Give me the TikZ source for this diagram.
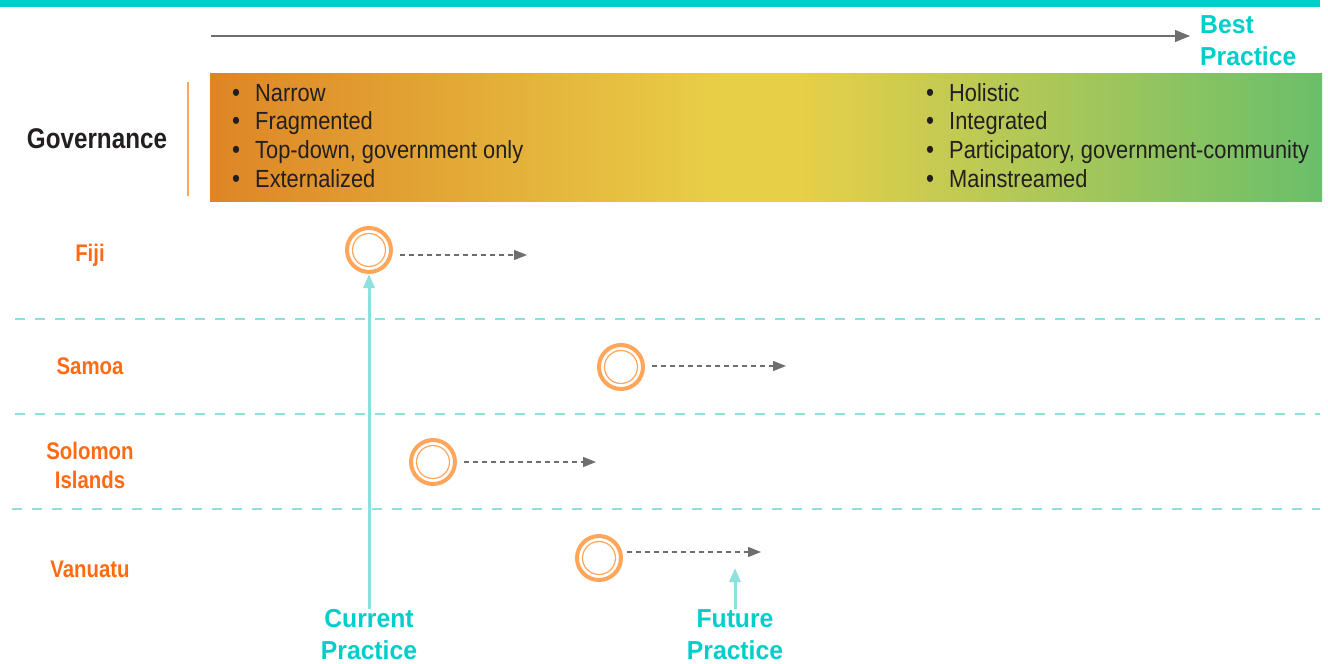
\documentclass[tikz,border=0pt]{standalone}
\usepackage{fontspec}
\setmainfont{Liberation Sans}
\newfontfamily\cf[FakeStretch=0.88]{Liberation Sans}
\newfontfamily\cfb[FakeStretch=0.85]{Liberation Sans Bold}
\newfontfamily\tfb[FakeStretch=0.95]{Liberation Sans Bold}
\usetikzlibrary{arrows.meta}
\definecolor{teal0}{RGB}{0,206,202}
\definecolor{lteal}{RGB}{140,224,222}
\definecolor{ctry}{RGB}{255,106,19}
\definecolor{ring}{RGB}{255,166,90}
\definecolor{gr}{RGB}{110,110,110}
\definecolor{gorange}{RGB}{222,133,38}
\definecolor{gyellow}{RGB}{232,207,72}
\definecolor{ggreen}{RGB}{106,191,106}
\definecolor{txt}{RGB}{35,31,32}
\pgfdeclarehorizontalshading{band}{100bp}{color(0bp)=(gorange); color(25bp)=(gorange); color(48bp)=(gyellow); color(51.5bp)=(gyellow); color(75bp)=(ggreen); color(100bp)=(ggreen)}
\tikzset{
  bul/.style={anchor=base west, inner sep=0pt, font=\cf\fontsize{24.8}{28}\selectfont, text=txt},
  ctrylab/.style={font=\cfb\fontsize{24}{29}\selectfont, text=ctry, align=center, inner sep=0pt},
  teallab/.style={font=\tfb\fontsize{26}{32}\selectfont, text=teal0, align=center, inner sep=0pt},
  dot/.style={circle, draw=ring, line width=4pt, minimum size=44pt, inner sep=0pt,
     append after command={\pgfextra{\draw[ring, line width=1.2pt] (\tikzlastnode.center) circle (16.5pt);}}},
  sep/.style={lteal, line width=2.5pt, dash pattern=on 10pt off 10pt},
  prog/.style={gr, line width=1.3pt, dash pattern=on 5pt off 4pt, -{Triangle[length=13pt,width=10pt]}},
  pointer/.style={lteal, line width=3pt, -{Triangle[length=14pt,width=11pt]}},
}
\newcommand{\bl}[1]{\makebox[23pt][l]{\fontsize{26}{26}\selectfont\textbullet}#1}
\begin{document}
\begin{tikzpicture}[x=1pt,y=-1pt]
\useasboundingbox (0,0) rectangle (1328,664);
% top bar
\fill[teal0] (0,0) rectangle (1320,7);
% axis arrow
\coordinate (axs) at (211,36);
\coordinate (axe) at (1190,36);
\draw[gr, line width=1.3pt, -{Triangle[length=15pt,width=12pt]}] (axs) -- (axe);
\node[teallab, anchor=west, align=left] (best) at (1200,41) {Best\\Practice};
% gradient band
\shade[shading=band] (210,73) rectangle (1322,201);
% governance
\draw[ring, line width=2.5pt] (188,82) -- (188,196);
\node[font=\cfb\fontsize{28.5}{32}\selectfont, text=txt] (gov) at (97,139) {Governance};
% bullets left
\foreach \t [count=\i] in {Narrow,Fragmented,{Top-down, government only},Externalized}{
  \node[bul] (l\i) at (232,101+28.7*\i-28.7) {\bl{\t}};
}
\foreach \t [count=\i] in {Holistic,Integrated,{Participatory, government-community},Mainstreamed}{
  \node[bul] (r\i) at (926,101+28.7*\i-28.7) {\bl{\t}};
}
% separators
\draw[sep] (15,319) -- (1320,319);
\draw[sep] (15,414) -- (1320,414);
\draw[sep] (12,509) -- (1320,509);
% countries
\node[ctrylab] (fiji) at (90,255) {Fiji};
\node[ctrylab] (samoa) at (90,366) {Samoa};
\node[ctrylab] (solomon) at (90,465) {Solomon\\Islands};
\node[ctrylab] (vanuatu) at (90,569) {Vanuatu};
% circles
\node[dot] (cf) at (369,250) {};
\node[dot] (cs) at (621,367) {};
\node[dot] (cso) at (433,462) {};
\node[dot] (cv) at (599,558) {};
\coordinate (ef) at (527,255);
\coordinate (es) at (786,366);
\coordinate (eso) at (596,462);
\coordinate (ev) at (761,552);
\draw[prog] (cf.east |- ef) ++(7,0) -- (ef);
\draw[prog] (cs.east |- es) ++(7,0) -- (es);
\draw[prog] (cso.east |- eso) ++(7,0) -- (eso);
\draw[prog] (cv.east |- ev) ++(4,0) -- (ev);
% current / future
\node[teallab] (cur) at (369,635) {Current\\Practice};
\node[teallab] (fut) at (735,635) {Future\\Practice};
\draw[pointer] (cur.north) ++(0,-1) -- (cf.south);
\draw[pointer] (fut.north) ++(0,-1) -- (735,568);
\end{tikzpicture}
\end{document}
